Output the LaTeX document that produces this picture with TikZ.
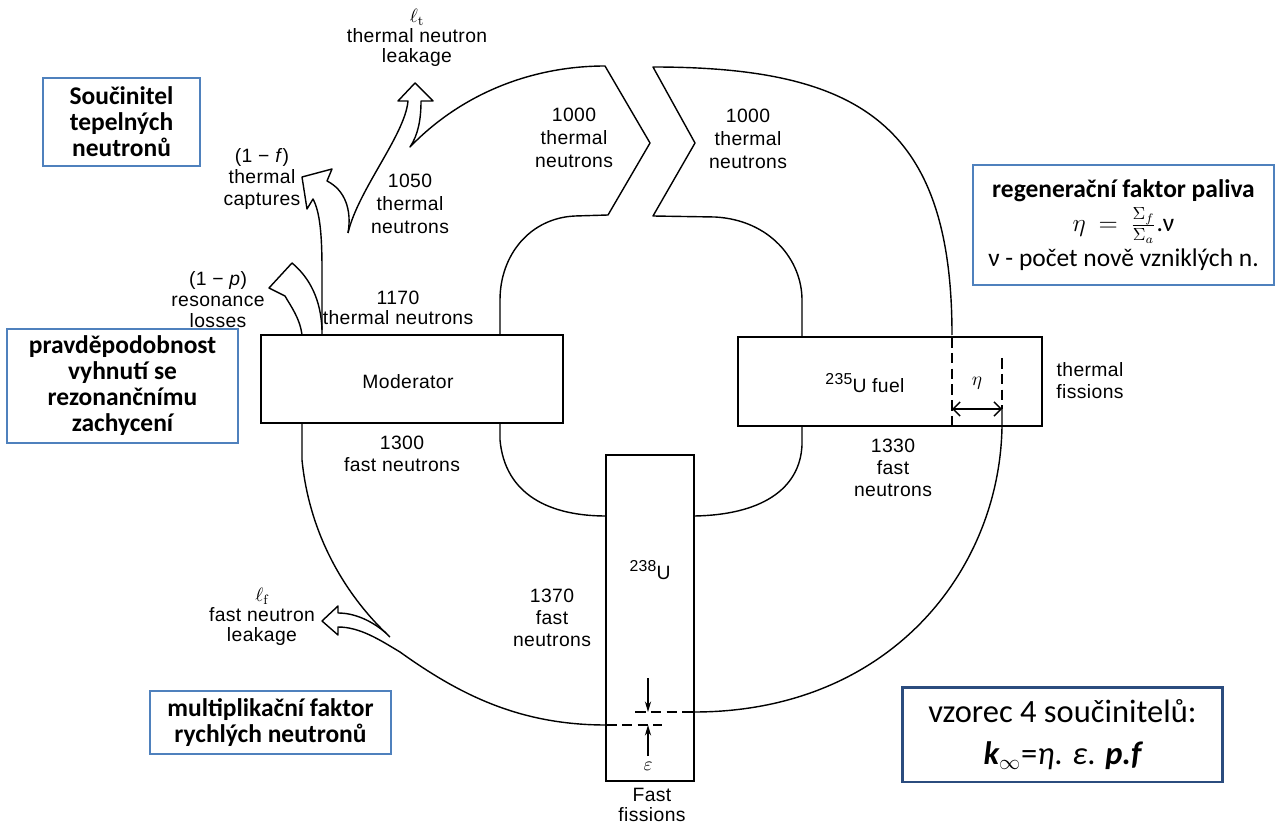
\documentclass[tikz,border=0pt]{standalone}
\usepackage{fontspec}
\usetikzlibrary{arrows.meta}
\newfontfamily\hv[LetterSpace=2]{Liberation Sans}
\newfontfamily\cz{Carlito}
\definecolor{boxblue}{RGB}{79,129,189}
\definecolor{navy}{RGB}{43,76,126}
\begin{document}
\begin{tikzpicture}[x=0.02cm,y=-0.02cm,
  ln/.style={line width=0.8pt,line join=round},
  dsh/.style={line width=0.8pt,dash pattern=on 6pt off 3pt},
  lbl/.style={font=\hv\fontsize{11}{13}\selectfont,align=center,inner sep=0},
  czb/.style={draw=boxblue,line width=1.4pt,align=center,inner sep=0,font=\cz\bfseries\fontsize{14.5}{14.8}\selectfont},
  blk/.style={draw,line width=0.8pt,inner sep=0}]
\useasboundingbox[fill=white] (0,0) rectangle (1281,827);

% main boxes
\node[blk,minimum width=6.04cm,minimum height=1.76cm] (mod) at (412,379) {};
\node[blk,minimum width=6.08cm,minimum height=1.78cm] (fuel) at (890,381.5) {};
\node[blk,minimum width=1.76cm,minimum height=6.52cm] (u238) at (650,618) {};

% top-left boundary with loss arrows
\draw[ln] (302,335) .. controls (300,318) and (290,305) .. (285,296) -- (269,288) -- (292,263) .. controls (310,278) and (321,300) .. (322,330);
\draw[ln] (322,335) -- (322,270) .. controls (322,235) and (320,212) .. (313,199) -- (307,209) -- (302,177) -- (332,169) -- (327,181) .. controls (345,190) and (352,210) .. (348,233);
\draw[ln] (348,233) .. controls (358,190) and (405,135) .. (408,101) -- (398,101) -- (415,83) -- (433,101) -- (421,101) .. controls (421,120) and (418,135) .. (410,147) .. controls (460,95) and (530,66) .. (605,66) -- (650,143) -- (608,215) -- (575,216) .. controls (530,218) and (500,255) .. (500,300) -- (500,335);

% top-right
\draw[ln] (952,335) .. controls (952,125) and (860,67) .. (653,67) -- (695,143) -- (653,216) -- (715,217) .. controls (770,220) and (802,260) .. (802,300) -- (802,337);

% inner bottom arcs
\draw[ln] (500,423) -- (500,440) .. controls (505,495) and (550,516) .. (606,516);
\draw[ln] (802,426) -- (802,445) .. controls (800,490) and (760,515) .. (694,516);

% outer right bottom
\draw[ln] (1002,409) -- (1002,426) .. controls (1000,570) and (890,712) .. (694,712);

% outer left bottom + fast leakage arrow
\draw[ln] (302,423) -- (302,460) .. controls (310,540) and (350,600) .. (390,637);
\draw[ln] (386,633) .. controls (372,621) and (355,613) .. (338,613) -- (338,606) -- (322,621) -- (338,635) -- (338,627) .. controls (360,627) and (380,640) .. (400,652) .. controls (460,695) and (520,725) .. (606,725);

% dashed and dimension marks
\draw[dsh] (606,725) -- (662,725);
\draw[dsh] (635,712) -- (694,712);
\draw[dsh] (952,337) -- (952,425);
\draw[dsh] (1002,358) -- (1002,409);
\draw[ln,{Straight Barb[length=4pt]}-{Straight Barb[length=4pt]}] (952,409) -- (1002,409);
\draw[ln,-{Stealth[length=6pt,width=3.5pt]}] (648,678) -- (648,712);
\draw[ln,-{Stealth[length=6pt,width=3.5pt]}] (648,756) -- (648,725);

% labels
\node[lbl,font=\hv\fontsize{11}{11.5}\selectfont] (llt) at (417,38) {$\ell_{\mathrm t}$\\thermal neutron\\leakage};
\node[lbl,font=\hv\fontsize{11}{12}\selectfont] (lcap) at (262,179) {(1 − \textit{f})\\thermal\\captures};
\node[lbl,font=\hv\fontsize{11}{12}\selectfont] (lres) at (218,300) {(1 − \textit{p})\\resonance\\losses};
\node[lbl] (l1050) at (410,204) {1050\\thermal\\neutrons};
\node[lbl,font=\hv\fontsize{11}{11.5}\selectfont] (l1170) at (398,308) {1170\\thermal neutrons};
\node[lbl] (l1000a) at (574,138) {1000\\thermal\\neutrons};
\node[lbl] (l1000b) at (748,139) {1000\\thermal\\neutrons};
\node[lbl] (lmod) at (408,382) {Moderator};
\node[lbl,font=\hv\fontsize{11}{12.5}\selectfont] (l1300) at (402,454) {1300\\fast neutrons};
\node[lbl] (lfuel) at (865,383) {\raisebox{.45em}{\fontsize{9}{9}\selectfont 235}U fuel};
\node[lbl,font=\hv\fontsize{11}{12.5}\selectfont] (ltf) at (1090,381) {thermal\\fissions};
\node[lbl] (leta) at (977,383) {$\eta$};
\node[lbl,font=\hv\fontsize{11}{12.5}\selectfont] (l1330) at (893,468) {1330\\fast\\neutrons};
\node[lbl] (lu) at (650,570) {\raisebox{.45em}{\fontsize{9}{9}\selectfont 238}U};
\node[lbl,font=\hv\fontsize{11}{12.5}\selectfont] (l1370) at (552,618) {1370\\fast\\neutrons};
\node[lbl,font=\hv\fontsize{11}{11.5}\selectfont] (llf) at (262,617) {$\ell_{\mathrm f}$\\fast neutron\\leakage};
\node[lbl] (leps) at (648,766) {$\varepsilon$};
\node[lbl,font=\hv\fontsize{11}{11.5}\selectfont] (lff) at (652,805) {Fast\\fissions};

% Czech boxes
\node[czb,minimum width=3.14cm,minimum height=1.76cm] (b1) at (121.5,122) {Součinitel\\tepelných\\neutronů};
\node[czb,minimum width=4.62cm,minimum height=2.28cm] (b2) at (122.5,386) {pravděpodobnost\\vyhnutí se\\rezonančnímu\\zachycení};
\node[czb,minimum width=4.82cm,minimum height=1.26cm] (b3) at (270.5,722.5) {multiplikační faktor\\rychlých neutronů};
\node[czb,minimum width=6.02cm,minimum height=2.4cm,font=\cz\fontsize{14.5}{19.5}\selectfont] (b4) at (1123.5,225) {\bfseries regenerační faktor paliva\\$\eta\ =\ \frac{\Sigma_f}{\Sigma_a}$.ν\\ν - počet nově vzniklých n.};
\node[draw=navy,line width=1.7pt,minimum width=6.42cm,minimum height=1.9cm,align=center,inner sep=0,font=\cz\fontsize{18.5}{24}\selectfont] (b5) at (1062.5,734.5) {vzorec 4 součinitelů:\\{\bfseries\itshape k}$_\infty$={\itshape η}. {\itshape ε}. {\bfseries\itshape p.f}};
\end{tikzpicture}
\end{document}
